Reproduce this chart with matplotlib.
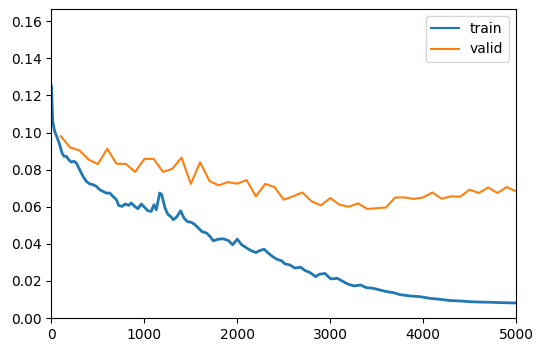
import numpy as np
import matplotlib
matplotlib.use("Agg")
import matplotlib.pyplot as plt

# ── values ───────────────────────────────────────────────────────────────────
train_steps = [
    0, 13, 34, 63, 88, 113, 135, 160, 185, 213, 242, 267, 303, 339, 375, 411,
    447, 483, 519, 554, 590, 626, 662, 698, 723, 759, 795, 831, 859, 895, 931,
    967, 1003, 1039, 1074, 1103, 1128, 1165, 1186, 1200, 1222, 1246, 1257,
    1283, 1311, 1347, 1390, 1426, 1462, 1509, 1545, 1581, 1616, 1670, 1706,
    1742, 1795, 1849, 1903, 1950, 2000, 2047, 2094, 2144, 2201, 2244, 2287,
    2334, 2381, 2424, 2478, 2513, 2567, 2621, 2682, 2729, 2783, 2844, 2883,
    2944, 3005, 3077, 3141, 3195, 3256, 3328, 3385, 3464, 3536, 3608, 3679,
    3751, 3859, 3967, 4074, 4182, 4290, 4397, 4505, 4612, 4720, 4828, 5000,
]
train_loss = [
    0.125, 0.106, 0.1007, 0.097, 0.0935, 0.089, 0.0872, 0.0872, 0.0854,
    0.0841, 0.0845, 0.0836, 0.080, 0.0764, 0.0737, 0.0723, 0.0719, 0.071,
    0.0692, 0.0683, 0.0674, 0.0674, 0.0656, 0.0638, 0.0607, 0.0602, 0.0615,
    0.0607, 0.062, 0.0602, 0.0589, 0.0615, 0.0596, 0.0578, 0.0575, 0.0611,
    0.0584, 0.0674, 0.0665, 0.0638, 0.0593, 0.0566, 0.0557, 0.0548, 0.053,
    0.0544, 0.0578, 0.0539, 0.052, 0.0515, 0.0503, 0.0485, 0.0467, 0.0458,
    0.044, 0.0416, 0.0425, 0.0427, 0.0418, 0.0395, 0.0425, 0.0395, 0.038,
    0.0364, 0.0353, 0.0364, 0.0371, 0.035, 0.0331, 0.0317, 0.0308, 0.0292,
    0.0286, 0.0269, 0.0274, 0.0256, 0.0245, 0.0223, 0.0236, 0.024, 0.0211,
    0.0214, 0.0196, 0.0182, 0.0173, 0.0178, 0.0164, 0.016, 0.0151, 0.0142,
    0.0137, 0.0126, 0.0119, 0.0115, 0.0106, 0.0101, 0.0094, 0.0092, 0.0088,
    0.0086, 0.0085, 0.0083, 0.0081,
]

valid_steps = list(range(100, 5001, 100))
valid_loss = [
    0.098, 0.092, 0.0904, 0.0854, 0.083, 0.0912, 0.0832, 0.0831, 0.0788,
    0.0858, 0.0858, 0.0788, 0.0804, 0.0865, 0.0723, 0.084, 0.0739, 0.0715,
    0.0733, 0.0724, 0.0744, 0.0656, 0.0723, 0.0706, 0.0638, 0.0656, 0.0677,
    0.0629, 0.0607, 0.0647, 0.0611, 0.060, 0.0618, 0.0588, 0.0592, 0.0596,
    0.065, 0.065, 0.0642, 0.065, 0.0677, 0.0643, 0.0656, 0.0654, 0.0692,
    0.0674, 0.0704, 0.0674, 0.0706, 0.0683,
]

fig = plt.figure(figsize=(5.43, 3.51), dpi=100)
ax = fig.add_axes([0.0948, 0.094, 0.8555, 0.8803])

ax.plot(train_steps, train_loss, color="#1f77b4", linewidth=2.0, label="train")
ax.plot(valid_steps, valid_loss, color="#ff7f0e", linewidth=1.5, label="valid")

ax.set_xlim(0, 5000)
ax.set_ylim(0, 0.1666)
leg = ax.legend(loc="upper right")
for line in leg.get_lines():
    line.set_linewidth(1.5)

fig.savefig("out.png", dpi=100)
